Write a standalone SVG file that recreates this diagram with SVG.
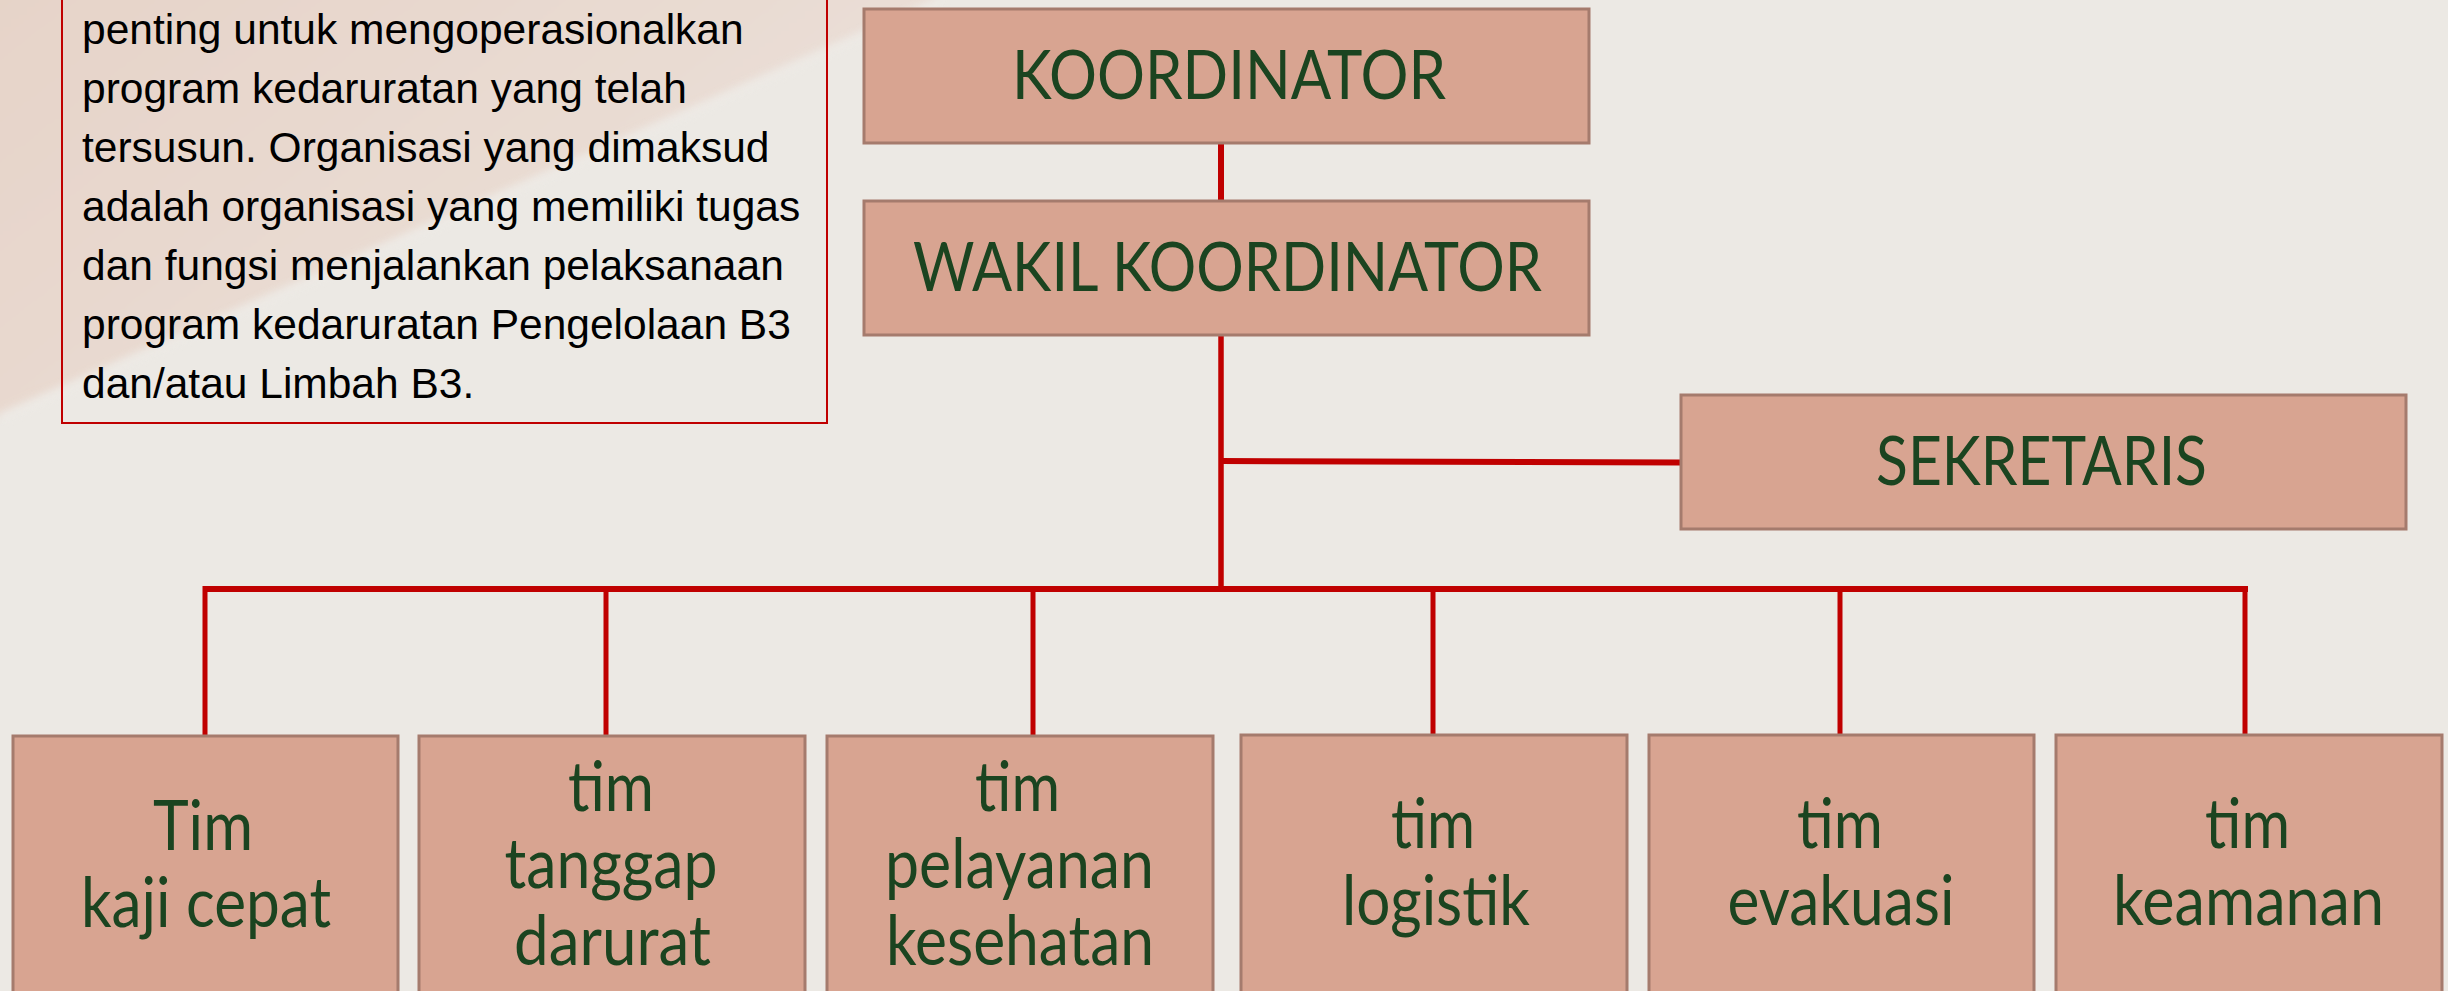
<svg xmlns="http://www.w3.org/2000/svg" width="2448" height="991" viewBox="0 0 2448 991">
<style>
.box{fill:#D8A491;stroke:#A57B6D;stroke-width:3}
.lbl{font-family:Lato,"Noto Sans",sans-serif;fill:#1B4420;text-anchor:middle}
.top{font-size:67px}
.bot{font-size:70px}
.body{font-family:"Liberation Sans",Arial,sans-serif;font-size:42.5px;fill:#000}
.ln{stroke:#C00000;fill:none;stroke-linecap:butt}
</style>
<defs>
<linearGradient id="pink" x1="0" y1="0" x2="1" y2="0.6">
<stop offset="0" stop-color="#E6D3C8"/>
<stop offset="0.6" stop-color="#E9DBD2"/>
<stop offset="1" stop-color="#EBE2DC"/>
</linearGradient>
<filter id="soft" x="-5%" y="-5%" width="110%" height="110%"><feGaussianBlur stdDeviation="4"/></filter>
</defs>
<rect x="0" y="0" width="2448" height="991" fill="#ECE9E4"/>
<polygon points="-20,-20 940,-20 935,0 0,414 -20,430" fill="url(#pink)" filter="url(#soft)"/>
<line x1="0" y1="418" x2="942" y2="0" stroke="#F1EEEA" stroke-width="5" opacity="0.6" filter="url(#soft)"/>

<g id="note">
<rect x="62" y="-10" width="765" height="433" fill="none" stroke="#C00000" stroke-width="2"/>
<text class="body" x="82" y="44">penting untuk mengoperasionalkan</text>
<text class="body" x="82" y="103">program kedaruratan yang telah</text>
<text class="body" x="82" y="162">tersusun. Organisasi yang dimaksud</text>
<text class="body" x="82" y="221">adalah organisasi yang memiliki tugas</text>
<text class="body" x="82" y="280">dan fungsi menjalankan pelaksanaan</text>
<text class="body" x="82" y="339">program kedaruratan Pengelolaan B3</text>
<text class="body" x="82" y="398">dan/atau Limbah B3.</text>
</g>

<g id="connectors">
<line class="ln" x1="1221" y1="144" x2="1221" y2="201" stroke-width="6"/>
<line class="ln" x1="1221" y1="335" x2="1221" y2="592" stroke-width="5.5"/>
<line class="ln" x1="1221" y1="461" x2="1680" y2="462.5" stroke-width="6"/>
<line class="ln" x1="203" y1="589" x2="2248" y2="589" stroke-width="6"/>
<line class="ln" x1="205" y1="586" x2="205" y2="735" stroke-width="5"/>
<line class="ln" x1="606" y1="589" x2="606" y2="735" stroke-width="5"/>
<line class="ln" x1="1033" y1="589" x2="1033" y2="735" stroke-width="5"/>
<line class="ln" x1="1433" y1="589" x2="1433" y2="734" stroke-width="5"/>
<line class="ln" x1="1840" y1="589" x2="1840" y2="734" stroke-width="5"/>
<line class="ln" x1="2245" y1="586" x2="2245" y2="734" stroke-width="5"/>
</g>

<g id="koordinator">
<rect class="box" x="864" y="9" width="725" height="134"/>
<text class="lbl top" x="1229" y="99" textLength="434" lengthAdjust="spacingAndGlyphs">KOORDINATOR</text>
</g>
<g id="wakil">
<rect class="box" x="864" y="201" width="725" height="134"/>
<text class="lbl top" x="1227.5" y="291" textLength="629" lengthAdjust="spacingAndGlyphs">WAKIL KOORDINATOR</text>
</g>
<g id="sekretaris">
<rect class="box" x="1681" y="395" width="725" height="134"/>
<text class="lbl top" x="2041.5" y="485" textLength="331" lengthAdjust="spacingAndGlyphs">SEKRETARIS</text>
</g>

<g id="tim-kaji">
<rect class="box" x="13" y="736" width="385" height="280"/>
<text class="lbl bot" x="203" y="850" textLength="100" lengthAdjust="spacingAndGlyphs">Tim</text>
<text class="lbl bot" x="206" y="927" textLength="250" lengthAdjust="spacingAndGlyphs">kaji cepat</text>
</g>
<g id="tim-tanggap">
<rect class="box" x="419" y="736" width="386" height="280"/>
<text class="lbl bot" x="611" y="811" textLength="86" lengthAdjust="spacingAndGlyphs">tim</text>
<text class="lbl bot" x="611" y="888" textLength="213" lengthAdjust="spacingAndGlyphs">tanggap</text>
<text class="lbl bot" x="612.5" y="965" textLength="197" lengthAdjust="spacingAndGlyphs">darurat</text>
</g>
<g id="tim-pelayanan">
<rect class="box" x="827" y="736" width="386" height="280"/>
<text class="lbl bot" x="1017.5" y="811" textLength="85" lengthAdjust="spacingAndGlyphs">tim</text>
<text class="lbl bot" x="1019.5" y="888" textLength="269" lengthAdjust="spacingAndGlyphs">pelayanan</text>
<text class="lbl bot" x="1020" y="965" textLength="268" lengthAdjust="spacingAndGlyphs">kesehatan</text>
</g>
<g id="tim-logistik">
<rect class="box" x="1241" y="735" width="386" height="280"/>
<text class="lbl bot" x="1433" y="848" textLength="84" lengthAdjust="spacingAndGlyphs">tim</text>
<text class="lbl bot" x="1436" y="925" textLength="188" lengthAdjust="spacingAndGlyphs">logistik</text>
</g>
<g id="tim-evakuasi">
<rect class="box" x="1649" y="735" width="385" height="280"/>
<text class="lbl bot" x="1840" y="848" textLength="86" lengthAdjust="spacingAndGlyphs">tim</text>
<text class="lbl bot" x="1841" y="925" textLength="227" lengthAdjust="spacingAndGlyphs">evakuasi</text>
</g>
<g id="tim-keamanan">
<rect class="box" x="2056" y="735" width="386" height="280"/>
<text class="lbl bot" x="2247.5" y="848" textLength="85" lengthAdjust="spacingAndGlyphs">tim</text>
<text class="lbl bot" x="2248.5" y="925" textLength="271" lengthAdjust="spacingAndGlyphs">keamanan</text>
</g>
</svg>
